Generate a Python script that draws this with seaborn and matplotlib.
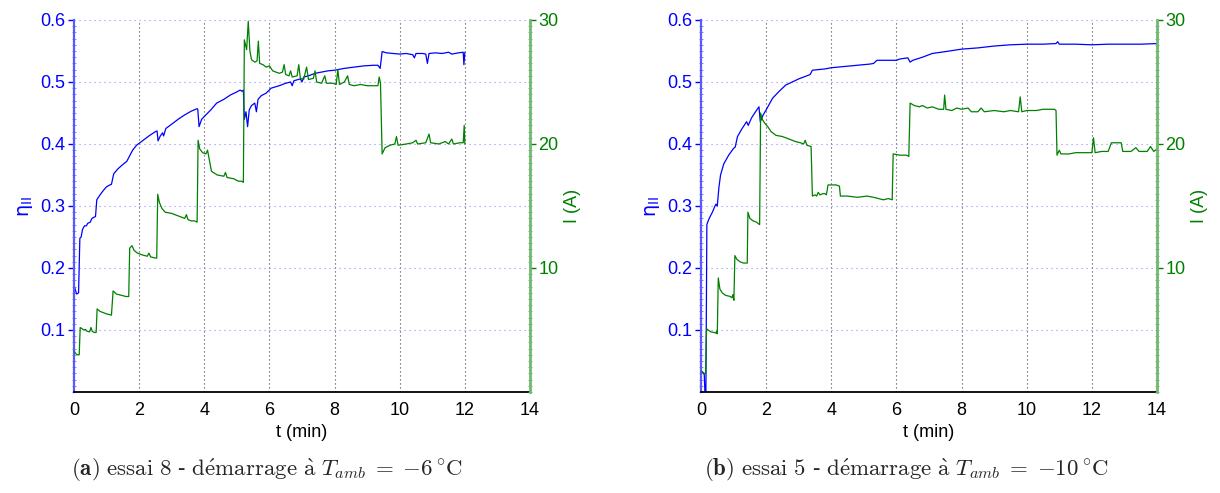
import matplotlib
matplotlib.use("Agg")
import matplotlib.pyplot as plt
import seaborn as sns
import pandas as pd
from matplotlib.ticker import MultipleLocator

# ---------------- data ----------------
# panel (a) : essai 8
t_eta_a = [0.00, 0.04, 0.08, 0.14, 0.18, 0.22, 0.26, 0.32, 0.38, 0.42, 0.50, 0.55, 0.62, 0.66,
           0.70, 0.80, 0.90, 1.00, 1.10, 1.15, 1.22, 1.35, 1.50, 1.62, 1.70, 1.80, 1.92, 2.10,
           2.30, 2.50, 2.55, 2.58, 2.65, 2.72, 2.75, 2.82, 3.00, 3.20, 3.40, 3.60, 3.78, 3.80,
           3.84, 3.92, 4.05, 4.20, 4.38, 4.60, 4.80, 5.00, 5.10, 5.16, 5.20, 5.23, 5.28, 5.33,
           5.38, 5.45, 5.55, 5.60, 5.65, 5.75, 5.90, 6.05, 6.30, 6.50, 6.65, 6.70, 6.75, 6.95,
           7.00, 7.05, 7.20, 7.40, 7.60, 7.80, 8.00, 8.30, 8.60, 8.90, 9.20, 9.33, 9.40, 9.46,
           9.60, 9.80, 10.0, 10.2, 10.4, 10.45, 10.5, 10.7, 10.8, 10.85, 10.9, 11.1, 11.3, 11.5,
           11.6, 11.8, 11.95, 11.97, 12.0]
eta_a = [0.172, 0.165, 0.158, 0.160, 0.248, 0.250, 0.262, 0.268, 0.268, 0.272, 0.274, 0.280, 0.282, 0.283,
         0.310, 0.318, 0.325, 0.331, 0.334, 0.335, 0.352, 0.360, 0.367, 0.372, 0.380, 0.390, 0.398, 0.405,
         0.413, 0.420, 0.421, 0.405, 0.413, 0.418, 0.413, 0.425, 0.432, 0.440, 0.447, 0.453, 0.457, 0.456,
         0.428, 0.440, 0.447, 0.455, 0.466, 0.472, 0.479, 0.484, 0.487, 0.485, 0.487, 0.440, 0.452, 0.428,
         0.455, 0.462, 0.466, 0.452, 0.472, 0.478, 0.482, 0.490, 0.494, 0.498, 0.500, 0.494, 0.502, 0.505,
         0.500, 0.508, 0.510, 0.514, 0.516, 0.518, 0.519, 0.522, 0.524, 0.526, 0.527, 0.527, 0.522, 0.549,
         0.547, 0.546, 0.545, 0.546, 0.544, 0.539, 0.546, 0.546, 0.545, 0.530, 0.546, 0.547, 0.546, 0.548,
         0.545, 0.547, 0.548, 0.528, 0.548]

t_I_a = [0.00, 0.05, 0.10, 0.16, 0.19, 0.25, 0.30, 0.35, 0.40, 0.48, 0.52, 0.56, 0.62, 0.68, 0.71,
         0.80, 0.90, 1.00, 1.15, 1.20, 1.30, 1.45, 1.60, 1.68, 1.71, 1.78, 1.85, 1.95, 2.10, 2.25,
         2.30, 2.35, 2.50, 2.54, 2.57, 2.62, 2.70, 2.80, 3.00, 3.20, 3.40, 3.45, 3.50, 3.60, 3.70,
         3.78, 3.81, 3.86, 3.95, 4.05, 4.10, 4.15, 4.22, 4.40, 4.60, 4.65, 4.70, 4.90, 5.05, 5.15,
         5.20, 5.23, 5.30, 5.35, 5.40, 5.45, 5.55, 5.62, 5.66, 5.70, 5.80, 5.90, 6.00, 6.10, 6.20,
         6.30, 6.40, 6.45, 6.50, 6.60, 6.65, 6.70, 6.85, 6.90, 6.95, 7.05, 7.14, 7.20, 7.35, 7.40,
         7.45, 7.60, 7.70, 7.75, 7.95, 8.05, 8.10, 8.15, 8.30, 8.40, 8.45, 8.60, 8.80, 9.00, 9.20,
         9.33, 9.37, 9.41, 9.46, 9.55, 9.70, 9.85, 9.90, 9.95, 10.2, 10.4, 10.5, 10.55, 10.8, 10.9,
         10.95, 11.2, 11.4, 11.5, 11.6, 11.65, 11.85, 11.95, 11.98, 12.0]
I_a = [3.3, 3.1, 3.0, 3.0, 5.2, 5.1, 5.0, 5.05, 4.9, 4.85, 5.2, 4.9, 4.8, 4.8, 6.7,
       6.5, 6.4, 6.3, 6.2, 8.15, 7.9, 7.8, 7.7, 7.7, 11.6, 11.8, 11.4, 11.2, 11.05, 10.95,
       11.2, 10.9, 10.8, 10.8, 15.95, 15.3, 14.8, 14.5, 14.4, 14.2, 14.0, 14.3, 13.9, 13.8, 13.8,
       13.7, 20.3, 19.6, 19.3, 19.2, 19.5, 18.8, 17.8, 17.5, 17.4, 17.7, 17.3, 17.2, 17.0, 17.0,
       16.9, 28.4, 27.6, 29.9, 27.5, 26.8, 26.6, 26.7, 28.3, 26.5, 26.4, 26.2, 26.3, 25.9, 25.8,
       25.7, 25.8, 26.4, 25.6, 25.5, 25.9, 25.4, 25.5, 26.4, 25.3, 25.2, 26.2, 25.2, 25.3, 25.9,
       25.0, 24.9, 25.5, 24.9, 24.9, 24.8, 26.0, 24.8, 25.0, 25.5, 24.8, 24.7, 24.8, 24.7, 24.7,
       24.7, 25.4, 24.9, 19.2, 19.7, 19.9, 20.0, 20.6, 19.9, 20.0, 20.1, 20.3, 20.0, 20.1, 20.8,
       20.1, 20.0, 20.2, 20.0, 20.4, 20.0, 20.1, 20.1, 21.5, 20.0]

# panel (b) : essai 5
t_eta_b = [0.00, 0.05, 0.10, 0.12, 0.15, 0.18, 0.22, 0.28, 0.35, 0.42, 0.46, 0.50, 0.55, 0.60,
           0.70, 0.85, 1.00, 1.05, 1.12, 1.25, 1.40, 1.45, 1.55, 1.70, 1.78, 1.82, 1.90, 2.00,
           2.20, 2.40, 2.60, 2.80, 3.00, 3.20, 3.35, 3.42, 3.60, 3.80, 4.00, 4.40, 4.80, 5.20,
           5.30, 5.40, 5.60, 5.80, 6.00, 6.10, 6.35, 6.42, 6.50, 6.80, 7.10, 7.50, 8.00, 8.50,
           9.00, 9.50, 10.0, 10.5, 10.9, 10.95, 11.0, 11.5, 12.0, 12.5, 13.0, 13.5, 14.0]
eta_b = [0.033, 0.032, 0.028, 0.000, 0.000, 0.270, 0.276, 0.283, 0.290, 0.299, 0.303, 0.300, 0.330, 0.350,
         0.368, 0.382, 0.393, 0.395, 0.412, 0.424, 0.436, 0.430, 0.442, 0.454, 0.460, 0.436, 0.446, 0.455,
         0.474, 0.485, 0.495, 0.500, 0.505, 0.509, 0.512, 0.519, 0.520, 0.521, 0.523, 0.525, 0.527, 0.529,
         0.530, 0.535, 0.535, 0.535, 0.535, 0.537, 0.539, 0.532, 0.535, 0.540, 0.546, 0.549, 0.553, 0.555,
         0.558, 0.560, 0.561, 0.561, 0.562, 0.565, 0.561, 0.561, 0.560, 0.561, 0.561, 0.561, 0.562]

t_I_b = [0.00, 0.05, 0.10, 0.14, 0.17, 0.22, 0.30, 0.40, 0.46, 0.48, 0.50, 0.53, 0.58, 0.65, 0.75,
         0.90, 0.95, 0.98, 1.01, 1.04, 1.10, 1.20, 1.30, 1.42, 1.44, 1.50, 1.60, 1.70, 1.80, 1.83,
         1.88, 1.95, 2.05, 2.15, 2.30, 2.50, 2.70, 2.90, 3.05, 3.15, 3.20, 3.25, 3.38, 3.42, 3.50,
         3.55, 3.60, 3.65, 3.75, 3.80, 3.85, 3.90, 4.00, 4.15, 4.25, 4.28, 4.50, 4.80, 5.10, 5.30,
         5.45, 5.60, 5.75, 5.87, 5.90, 6.10, 6.30, 6.38, 6.42, 6.55, 6.70, 6.80, 6.95, 7.10, 7.30,
         7.45, 7.48, 7.52, 7.70, 7.85, 8.00, 8.20, 8.30, 8.50, 8.60, 8.70, 9.00, 9.30, 9.50, 9.75,
         9.80, 9.85, 10.0, 10.3, 10.5, 10.6, 10.85, 10.9, 10.93, 11.0, 11.05, 11.3, 11.5, 11.8, 12.0,
         12.05, 12.1, 12.3, 12.5, 12.6, 12.9, 12.95, 13.2, 13.35, 13.45, 13.7, 13.8, 13.9, 14.0]
I_b = [1.7, 1.6, 1.5, 1.5, 5.1, 5.0, 4.85, 4.8, 4.75, 4.9, 4.7, 9.2, 8.3, 8.0, 7.8,
       7.7, 7.6, 7.85, 7.4, 11.0, 10.7, 10.5, 10.4, 10.4, 14.5, 14.0, 13.8, 13.7, 13.5, 22.5,
       22.0, 21.7, 21.4, 21.0, 20.7, 20.6, 20.4, 20.2, 20.1, 20.0, 20.3, 19.9, 19.8, 15.8, 15.9,
       15.8, 16.1, 15.9, 16.0, 16.0, 15.9, 16.7, 16.7, 16.7, 16.6, 15.8, 15.8, 15.7, 15.8, 15.7,
       15.6, 15.5, 15.6, 15.5, 19.2, 19.1, 19.1, 19.0, 23.3, 23.1, 23.0, 23.1, 22.9, 23.0, 22.8,
       22.8, 23.95, 22.8, 22.7, 22.9, 22.8, 22.9, 22.6, 22.6, 22.9, 22.6, 22.7, 22.6, 22.7, 22.6,
       23.8, 22.6, 22.7, 22.7, 22.8, 22.8, 22.8, 22.7, 19.1, 19.5, 19.2, 19.2, 19.3, 19.3, 19.3,
       20.5, 19.3, 19.4, 19.4, 20.1, 20.1, 19.4, 19.4, 19.7, 19.4, 19.4, 19.8, 19.4, 19.6]

x_ticks = [0, 2, 4, 6, 8, 10, 12, 14]
eta_ticks = [0.1, 0.2, 0.3, 0.4, 0.5, 0.6]
I_ticks = [10, 20, 30]
captions = [r"$\mathbf{(a)}\ \mathrm{essai\ 8\ }" "\u2010" r"\mathrm{\ d\acute{e}marrage\ \grave{a}}\ T_{amb}\;=\;{-6}\,^{\circ}\mathrm{C}$",
            r"$\mathbf{(b)}\ \mathrm{essai\ 5\ }" "\u2010" r"\mathrm{\ d\acute{e}marrage\ \grave{a}}\ T_{amb}\;=\;{-10}\,^{\circ}\mathrm{C}$"]

# ---------------- styling ----------------
sns.set_style("white")
plt.rcParams["font.family"] = ["Liberation Sans", "DejaVu Sans"]

BLUE = "#0000ff"
GREEN = "#008000"
FS = 13

fig = plt.figure(figsize=(12.2, 4.93), dpi=100)
lefts = [74 / 1220, 701 / 1220]
cap_x = [267 / 1220, 906 / 1220]
series = [(t_eta_a, eta_a, t_I_a, I_a), (t_eta_b, eta_b, t_I_b, I_b)]

for k, (te, ev, ti, iv) in enumerate(series):
    ax = fig.add_axes([lefts[k], 101 / 493, 456 / 1220, 372 / 493])
    ax2 = ax.twinx()

    df_eta = pd.DataFrame({"t": te, "eta": ev})
    df_I = pd.DataFrame({"t": ti, "I": iv})
    sns.lineplot(data=df_eta, x="t", y="eta", ax=ax, color=BLUE, lw=0.9,
                 estimator=None, sort=False)
    sns.lineplot(data=df_I, x="t", y="I", ax=ax2, color=GREEN, lw=0.9,
                 estimator=None, sort=False)

    ax.set_xlim(0, 14)
    ax.set_ylim(0, 0.6)
    ax2.set_ylim(0, 30)
    ax.set_xticks(x_ticks)
    ax.set_yticks(eta_ticks)
    ax2.set_yticks(I_ticks)
    ax.yaxis.set_minor_locator(MultipleLocator(0.01))
    ax2.yaxis.set_minor_locator(MultipleLocator(0.5))

    # grids
    for xv in x_ticks[1:]:
        ax.axvline(xv, color="#444444", lw=0.8, ls=(0, (1, 2.6)), zorder=0)
    for yv in eta_ticks:
        ax.axhline(yv, color="#8c8cff", lw=0.8, ls=(0, (1, 3.5)), zorder=0)

    # spines
    for s in ["top", "right"]:
        ax.spines[s].set_visible(False)
    for s in ["top", "left", "bottom"]:
        ax2.spines[s].set_visible(False)
    ax.spines["left"].set_color("#5a5aff")
    ax.spines["left"].set_linewidth(1.6)
    ax.spines["bottom"].set_color("black")
    ax.spines["bottom"].set_linewidth(1.3)
    ax2.spines["right"].set_color("#6fb86f")
    ax2.spines["right"].set_linewidth(2.0)

    ax.tick_params(axis="x", which="major", direction="out", length=4, width=1,
                   colors="black", labelsize=FS, pad=3)
    ax.tick_params(axis="y", which="major", direction="out", length=4, width=1,
                   colors=BLUE, labelsize=FS, pad=2)
    ax.tick_params(axis="y", which="minor", direction="inout", length=2.5, width=0.5,
                   colors="#5a5aff", left=True)
    ax2.tick_params(axis="y", which="major", direction="out", length=4, width=1,
                    colors=GREEN, labelsize=FS, pad=2)
    ax2.tick_params(axis="y", which="minor", direction="inout", length=2.5, width=0.5,
                    colors="#4f9f4f", right=True)
    ax.yaxis.set_major_formatter(matplotlib.ticker.FormatStrFormatter("%g"))

    ax.set_xlabel("t (min)", fontsize=FS, color="black", labelpad=4)
    ax.set_ylabel(r"$\mathrm{\eta}_{\mathrm{II}}$", fontsize=14, color=BLUE, labelpad=4,
                  math_fontfamily="dejavusans")
    ax2.set_ylabel("I (A)", fontsize=FS, color=GREEN, labelpad=4)

    fig.text(cap_x[k], (493 - 470) / 493, captions[k], ha="center", va="center",
             fontsize=16.5, math_fontfamily="cm")

fig.savefig("out.png", dpi=100)
